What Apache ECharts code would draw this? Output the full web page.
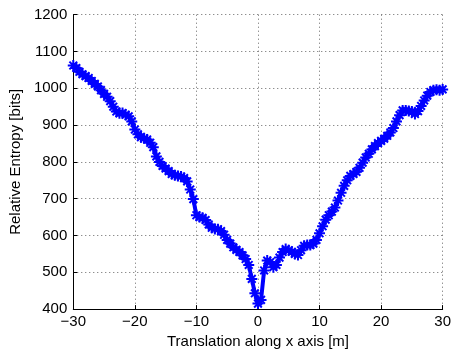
<!DOCTYPE html>
<html>
<head>
<meta charset="utf-8">
<script src="https://cdn.jsdelivr.net/npm/echarts@6/dist/echarts.min.js"></script>
<style>html,body{margin:0;padding:0;background:#fff}#c{width:454px;height:354px}</style>
</head>
<body>
<div id="c"></div>
<script>
var xValues = [-30,-29.5,-29,-28.5,-28,-27.5,-27,-26.5,-26,-25.5,-25,-24.5,-24,-23.5,-23,-22.5,-22,-21.5,-21,-20.5,
-20,-19.5,-19,-18.5,-18,-17.5,-17,-16.5,-16,-15.5,-15,-14.5,-14,-13.5,-13,-12.5,-12,-11.5,-11,-10.5,
-10,-9.5,-9,-8.5,-8,-7.5,-7,-6.5,-6,-5.5,-5,-4.5,-4,-3.5,-3,-2.5,-2,-1.5,-1,-0.5,
0,0.5,1,1.5,2,2.5,3,3.5,4,4.5,5,5.5,6,6.5,7,7.5,8,8.5,9,9.5,
10,10.5,11,11.5,12,12.5,13,13.5,14,14.5,15,15.5,16,16.5,17,17.5,18,18.5,19,19.5,
20,20.5,21,21.5,22,22.5,23,23.5,24,24.5,25,25.5,26,26.5,27,27.5,28,28.5,29,29.5,30];
var entropy = [1062,1055,1045,1038,1033,1028,1020,1012,1005,995,985,977,965,950,937,932,933,928,924,910,
888,875,867,864,861,852,840,815,800,789,782,775,767,764,762,760,756,747,725,699,
655,650,648,642,630,621,618,617,612,602,588,578,568,561,555,546,536,520,482,443,
415,425,505,532,528,514,520,540,555,563,560,556,550,547,560,572,574,574,578,588,
606,625,643,655,665,676,695,716,735,750,762,767,773,784,798,812,822,834,843,851,
857,863,871,880,892,910,927,940,940,938,937,930,938,952,967,980,990,995,996,995,997];
var xTicks = [-30,-20,-10,0,10,20,30];
var yTicks = [400,500,600,700,800,900,1000,1100,1200];
var xLabel = 'Translation along x axis [m]';
var yLabel = 'Relative Entropy [bits]';

var data = xValues.map(function(x,i){return [x, entropy[i]];});
var font = 'Liberation Sans, Arial, Helvetica, sans-serif';
var chart = echarts.init(document.getElementById('c'), null, {renderer:'canvas'});
var gridLine = {show:true, lineStyle:{color:'#666', type:[1,3], width:1}};
chart.setOption({
  animation:false,
  backgroundColor:'#fff',
  grid:{left:70, right:9, top:14.7, bottom:43.3},
  xAxis:{
    type:'value', min:xTicks[0], max:xTicks[xTicks.length-1], interval:10,
    name:xLabel, nameLocation:'middle', nameGap:22,
    nameTextStyle:{fontFamily:font, fontSize:15, color:'#000'},
    axisLine:{show:true, onZero:false, lineStyle:{color:'#000', width:1}},
    axisTick:{show:true, inside:true, length:4, lineStyle:{color:'#000'}},
    axisLabel:{fontFamily:font, fontSize:15, color:'#000', margin:5,
      formatter:function(v){return v<0 ? '\u2212'+(-v) : String(v);}},
    splitLine:gridLine
  },
  yAxis:{
    type:'value', min:yTicks[0], max:yTicks[yTicks.length-1], interval:100,
    name:yLabel, nameLocation:'middle', nameGap:48, nameRotate:90,
    nameTextStyle:{fontFamily:font, fontSize:15, color:'#000'},
    axisLine:{show:true, onZero:false, lineStyle:{color:'#000', width:1}},
    axisTick:{show:true, inside:true, length:4, lineStyle:{color:'#000'}},
    axisLabel:{fontFamily:font, fontSize:15, color:'#000', margin:6,
      formatter:function(v){return String(v);}},
    splitLine:gridLine
  },
  series:[{
    type:'line', data:data,
    lineStyle:{color:'#0000ff', width:4},
    symbol:'path://M0,-5 L0,5 M-5,0 L5,0 M-3.5,-3.5 L3.5,3.5 M-3.5,3.5 L3.5,-3.5',
    symbolSize:11, showAllSymbol:true,
    itemStyle:{color:'#0000ff', borderColor:'#0000ff', borderWidth:2},
    z:5
  }]
});
</script>
</body>
</html>
